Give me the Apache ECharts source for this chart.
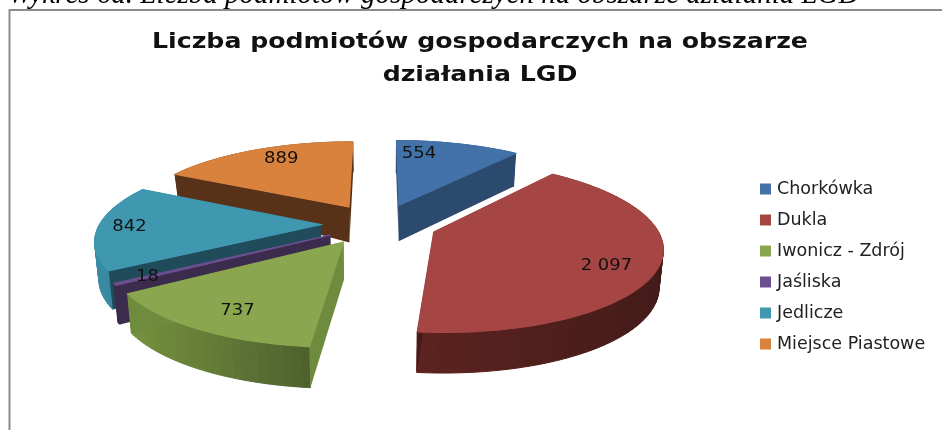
<!DOCTYPE html>
<html>
<head>
<meta charset="utf-8">
<title>Liczba podmiotów gospodarczych</title>
<script src="https://cdn.jsdelivr.net/npm/echarts@6/dist/echarts.min.js"></script>
<style>
html, body { margin: 0; padding: 0; background: #fff; overflow: hidden; }
#main { width: 942px; height: 430px; }
</style>
</head>
<body>
<div id="main"></div>
<script>
var categories = ['Chorkówka', 'Dukla', 'Iwonicz - Zdrój', 'Jaśliska', 'Jedlicze', 'Miejsce Piastowe'];
var values = [554, 2097, 737, 18, 842, 889];
var valueLabels = ['554', '2 097', '737', '18', '842', '889'];

// styles, same order as categories
var topColors = ['#4272a8', '#a54644', '#8aa74f', '#6c4f90', '#3f97b0', '#d9823d'];
var cutColors = ['#2b4a6e', '#431b18', '#6f8b3e', '#3b2b4c', '#1f4b5b', '#573218'];
var wallLeft = ['#2b4a6e', '#5c2320', '#76923f', '#3b2b4c', '#3a8ba5', '#573218'];
var wallRight = ['#2b4a6e', '#431b18', '#4e602d', '#3b2b4c', '#2f7d95', '#573218'];
var drawOrder = [2, 6, 5, 4, 3, 1];
// where the value label sits inside the slice
var labelFrac = [0.22, 0.54, 0.455, 0.5, 0.5, 0.56];
var labelRadius = [0.78, 0.8, 0.8, 0.86, 0.86, 0.8];
// small sideways shift of each slice, the original perspective is not quite regular
var sliceShift = [0, 0, -7, -2, -4, -4];

// projection of the pie plane on the screen
var cx = 381, cy = 224, scaleX = 221, scaleY = 81, persp = 0.165, explode = 0.254;
var total = 0;
for (var i = 0; i < values.length; i++) {
    total += values[i];
}

function project(x, y) {
    var w = 1 + persp * y;
    return [cx + scaleX * x / w, cy - scaleY * y / w];
}

function projectLow(x, y) {
    var p = project(x, y);
    var d = 36.8 - 3.5 * y - 17 * Math.max(0, y) * Math.max(0, -x);
    return [cx + (p[0] - cx) * 0.985, p[1] + d];
}

function sliceShape(index) {
    var before = 0;
    for (var i = 0; i < index; i++) {
        before += values[i];
    }
    var a0 = before / total * Math.PI * 2;
    var a1 = (before + values[index]) / total * Math.PI * 2;
    var mid = (a0 + a1) / 2;
    return {
        a0: a0,
        a1: a1,
        ox: explode * Math.sin(mid),
        oy: explode * Math.cos(mid)
    };
}

function renderSlice(index) {
    return function (params, api) {
        var s = sliceShape(index);
        var steps = Math.max(2, Math.round((s.a1 - s.a0) * 30));
        var topArc = [], lowArc = [];
        var minX = Infinity, maxX = -Infinity;
        for (var k = 0; k <= steps; k++) {
            var a = s.a0 + (s.a1 - s.a0) * k / steps;
            var x = s.ox + Math.sin(a);
            var y = s.oy + Math.cos(a);
            var low = projectLow(x, y);
            topArc.push(project(x, y));
            lowArc.push(low);
            minX = Math.min(minX, low[0]);
            maxX = Math.max(maxX, low[0]);
        }
        var apexTop = project(s.ox, s.oy);
        var apexLow = projectLow(s.ox, s.oy);
        var children = [];
        // outer wall as small strips, shaded left to right
        for (var q = 0; q < steps; q++) {
            var t = ((lowArc[q][0] + lowArc[q + 1][0]) / 2 - minX) / (maxX - minX);
            var shade = echarts.color.lerp(t, [wallLeft[index], wallRight[index]]);
            children.push({
                type: 'polygon',
                shape: { points: [topArc[q], topArc[q + 1], lowArc[q + 1], lowArc[q]] },
                style: { fill: shade, stroke: shade, lineWidth: 1 }
            });
        }
        children.push({
            type: 'polygon',
            shape: { points: [apexTop, topArc[0], lowArc[0], apexLow] },
            style: { fill: cutColors[index] }
        });
        children.push({
            type: 'polygon',
            shape: { points: [apexTop, topArc[steps], lowArc[steps], apexLow] },
            style: { fill: cutColors[index] }
        });
        // stroke in the same colour hides the wall strips behind the back edge
        children.push({
            type: 'polygon',
            shape: { points: [apexTop].concat(topArc) },
            style: { fill: topColors[index], stroke: topColors[index], lineWidth: 1.2 }
        });
        var la = s.a0 + (s.a1 - s.a0) * labelFrac[index];
        var lp = project(s.ox + labelRadius[index] * Math.sin(la), s.oy + labelRadius[index] * Math.cos(la));
        children.push({
            type: 'text',
            z2: 10,
            x: lp[0],
            y: lp[1],
            scaleX: 1.2,
            style: {
                text: valueLabels[index],
                fill: '#111',
                font: '15px "DejaVu Sans"',
                align: 'center',
                verticalAlign: 'middle'
            }
        });
        return { type: 'group', x: sliceShift[index], children: children };
    };
}

var seriesList = [];
for (var n = 0; n < categories.length; n++) {
    seriesList.push({
        name: categories[n],
        type: 'custom',
        coordinateSystem: 'none',
        silent: true,
        z: drawOrder[n],
        itemStyle: { color: topColors[n] },
        renderItem: renderSlice(n),
        data: [values[n]]
    });
}

var myChart = echarts.init(document.getElementById('main'), null, { renderer: 'canvas' });

var option = {
    animation: false,
    backgroundColor: '#fff',
    textStyle: { fontFamily: 'DejaVu Sans' },
    legend: {
        orient: 'vertical',
        left: 760,
        top: 180,
        padding: 0,
        itemWidth: 11,
        itemHeight: 11,
        itemGap: 13,
        icon: 'rect',
        data: categories,
        selectedMode: false,
        textStyle: {
            fontFamily: 'DejaVu Sans',
            fontSize: 17.5,
            color: '#222',
            lineHeight: 18,
            padding: [0, 0, 0, 1]
        }
    },
    graphic: [
        {
            type: 'polyline',
            silent: true,
            shape: { points: [[9.5, 430], [9.5, 10], [942, 10]] },
            style: { stroke: '#8c8c8c', lineWidth: 2, fill: null }
        },
        {
            type: 'text',
            silent: true,
            style: {
                x: 8,
                y: 10,
                text: 'Wykres 6a. Liczba podmiotów gospodarczych na obszarze działania LGD',
                font: 'italic 29px "Liberation Serif"',
                fill: '#000',
                verticalAlign: 'bottom'
            }
        },
        {
            type: 'text',
            silent: true,
            x: 480,
            y: 43,
            scaleX: 1.2,
            style: {
                text: 'Liczba podmiotów gospodarczych na obszarze',
                font: 'bold 21px "DejaVu Sans"',
                fill: '#111',
                align: 'center',
                verticalAlign: 'middle'
            }
        },
        {
            type: 'text',
            silent: true,
            x: 480,
            y: 76,
            scaleX: 1.2,
            style: {
                text: 'działania LGD',
                font: 'bold 21px "DejaVu Sans"',
                fill: '#111',
                align: 'center',
                verticalAlign: 'middle'
            }
        }
    ],
    series: seriesList
};

myChart.setOption(option);
</script>
</body>
</html>
